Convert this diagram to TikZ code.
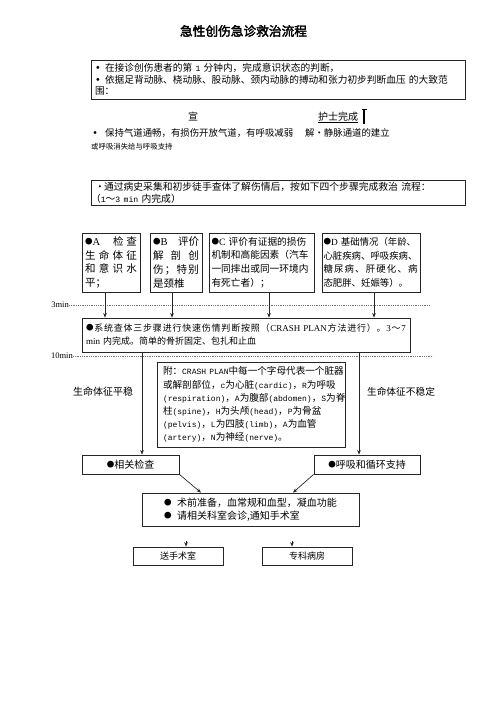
\documentclass[tikz,border=0pt]{standalone}
\usepackage{fontspec}
\setmainfont{Noto Sans CJK SC}
\newfontfamily\latf{Liberation Serif}
\newfontfamily\monf[Scale=0.833]{Liberation Mono}
\newfontfamily\djvf{DejaVu Sans}
\newfontfamily\titf[FakeBold=2.5]{Noto Sans CJK SC}
\usetikzlibrary{arrows.meta}
\newcommand\fsz[2]{\fontsize{#1pt}{#2pt}\selectfont}
\newcommand\bul{\raisebox{1pt}{\fontsize{7.5pt}{8pt}\selectfont ●}}
\newcommand\sbul{{\djvf •}}
\def\sprdend{SPRDEND}
\def\sprd#1#2{\leavevmode\hbox to #1{\sprdA#2\sprdend}}
\def\sprdA#1{{#1}\sprdB}
\def\sprdB#1{\ifx\sprdend#1\else\hfil{#1}\expandafter\sprdB\fi}
\begin{document}
\begin{tikzpicture}[x=1pt,y=-1pt,
  box/.style={draw=black!85, line width=0.8pt, inner sep=0pt, align=left},
  arr/.style={-{Stealth[length=4.5pt,width=3.6pt]}, line width=0.7pt, draw=black!85},
  dotl/.style={black!55, line width=0.6pt, dash pattern=on 0.5pt off 1.3pt},
  lbl/.style={inner sep=0pt}]
\useasboundingbox (0,0) rectangle (496,702);
\fill[white] (0,0) rectangle (496,702);

\node[lbl, font=\titf\fsz{12.7}{14}] (title) at (243.5,31) {急性创伤急诊救治流程};

\node[box, minimum width=374pt, minimum height=39pt, text width=366pt, font=\fsz{9.7}{11.6}] (b1) at (278,79.5)
 {\mbox{\makebox[10pt][l]{\sbul}在接诊创伤患者的第 {\monf 1} 分钟内，完成意识状态的判断，}\\
  \mbox{\makebox[10pt][l]{\sbul}依据足背动脉、桡动脉、股动脉、颈内动脉的搏动和张力初步判断血压 的大致范}\\
  围：};

\node[lbl, font=\fsz{10}{12}] (xuan) at (193,117) {宣};
\node[lbl, font=\fsz{10}{12}] (hushi) at (338,117) {护士完成};
\draw[line width=0.5pt] ([yshift=-0.5pt]hushi.south west) -- ([yshift=-0.5pt]hushi.south east);
\coordinate (ibeam) at (364,124);
\draw[line width=1.4pt] (ibeam) -- ++(0,-15);
\draw[line width=0.6pt] (ibeam) ++(-2.5,-14.7) -- ++(5,0);

\node[lbl, anchor=west, font=\fsz{9.4}{11}] (l1) at (91,133)
 {\makebox[8pt]{\sbul}\hspace{6pt}保持气道通畅，有损伤开放气道，有呼吸减弱\hspace{12pt}解•静脉通道的建立};
\node[lbl, anchor=west, font=\fsz{7.4}{9}] (l2) at (91,147) {或呼吸消失给与呼吸支持};

\node[box, minimum width=374pt, minimum height=25pt, text width=366pt, font=\fsz{9.8}{12}] (b2) at (278,192.5)
 {\mbox{\hspace*{1pt}\makebox[8pt]{·}通过病史采集和初步徒手查体了解伤情后，按如下四个步骤完成救治 流程：}\\
  \mbox{\hspace*{-4pt}（{\monf 1}～{\monf 3 min} 内完成）}};

\node[box, minimum width=58pt, minimum height=59pt, text width=52pt, font=\fsz{10.5}{13.7}] (A) at (111,262.5)
 {\mbox{\hbox to 52pt{\bul{\latf A}\hfil 检\hspace{3pt}查}}\\
  \sprd{52pt}{生命体征}\\
  \sprd{52pt}{和意识水}\\
  平；};
\node[box, minimum width=52pt, minimum height=59pt, text width=46pt, font=\fsz{10.5}{13.7}] (B) at (176,262.5)
 {\mbox{\hbox to 46pt{\bul{\latf B}\hfil 评价}}\\
  \sprd{46pt}{解剖创}\\
  \sprd{46pt}{伤；特别}\\
  是颈椎};
\node[box, minimum width=105pt, minimum height=59pt, text width=100pt, font=\fsz{9.7}{13.7}] (C) at (261.5,262.5)
 {\mbox{\bul{\latf C} 评价有证据的损伤}\\
  \mbox{机制和高能因素（汽车}\\
  \mbox{一同摔出或同一环境内}\\
  \mbox{有死亡者）；}};
\node[box, minimum width=98pt, minimum height=59pt, text width=95pt, font=\fsz{9.4}{13.7}] (D) at (371,262.5)
 {\mbox{\bul{\latf D} 基础情况（年龄、}\\
  \mbox{心脏疾病、呼吸疾病、}\\
  \sprd{94pt}{糖尿病、肝硬化、病}\\
  \mbox{态肥胖、妊娠等）。}};

\node[lbl, anchor=east, font=\latf\fsz{8.5}{10}] (t3) at (69,305) {3min};
\coordinate (t3e) at (430,305);
\draw[dotl] (t3.east) -- (t3e);

\node[box, minimum width=328pt, minimum height=34pt, text width=320pt, font=\fsz{9}{13}] (main) at (246,335)
 {\sprd{320pt}{\bul 系统查体三步骤进行快速伤情判断按照（{\latf CRASH PLAN}方法进行）。{\latf 3}～{\latf 7}}\\
  {\latf min} 内完成。简单的骨折固定、包扎和止血};

\coordinate (xa) at (105,0);
\coordinate (xb) at (172,0);
\coordinate (xc) at (269,0);
\coordinate (xd) at (374,0);
\draw[arr] (A.south -| xa) -- (main.north -| xa);
\draw[arr] (B.south -| xb) -- (main.north -| xb);
\draw[arr] (C.south -| xc) -- (main.north -| xc);
\draw[arr] (D.south -| xd) -- (main.north -| xd);

\node[lbl, anchor=east, font=\latf\fsz{8.5}{10}] (t10) at (73,356) {10min};
\coordinate (t10e) at (433,356);
\draw[dotl] (t10.east) -- (t10e);

\node[box, minimum width=188pt, minimum height=85pt, text width=176pt, font=\fsz{9.6}{13.1}] (note) at (251,404.5)
 {\mbox{附：{\monf CRASH PLAN}中每一个字母代表一个脏器}\\
  \mbox{或解剖部位，{\monf c}为心脏{\monf (cardic)}，{\monf R}为呼吸}\\
  \mbox{{\monf (respiration)}，{\monf A}为腹部{\monf (abdomen)}，{\monf S}为脊}\\
  \mbox{柱{\monf (spine)}，{\monf H}为头颅{\monf (head)}，{\monf P}为骨盆}\\
  \mbox{{\monf (pelvis)}，{\monf L}为四肢{\monf (limb)}，{\monf A}为血管}\\
  \mbox{{\monf (artery)}，{\monf N}为神经{\monf (nerve)}。}};

\node[lbl, font=\fsz{10}{12}] (stable) at (103,392) {生命体征平稳};
\node[lbl, font=\fsz{9.7}{12}] (unstable) at (401,392) {生命体征不稳定};

\node[box, minimum width=97pt, minimum height=19pt, font=\fsz{10}{12}] (rel) at (130.5,464.5) {\bul 相关检查};
\node[box, minimum width=106pt, minimum height=19pt, font=\fsz{10}{12}] (sup) at (367,464.5) {\bul 呼吸和循环支持};

\coordinate (xl) at (142,0);
\coordinate (xr) at (359,0);
\draw[arr] (main.south -| xl) -- (rel.north -| xl);
\draw[arr] (main.south -| xr) -- (sup.north -| xr);

\node[box, minimum width=217pt, minimum height=33pt, text width=173pt, font=\fsz{10}{13}] (prep) at (250.5,509.5)
 {\mbox{\makebox[13pt][l]{\bul}术前准备，血常规和血型，凝血功能}\\
  \mbox{\makebox[13pt][l]{\bul}请相关科室会诊,通知手术室}};

\coordinate (xdl) at (201,0);
\coordinate (xdr) at (293,0);
\draw[arr] (rel.south east) -- (prep.north -| xdl);
\draw[arr] (sup.south west) -- (prep.north -| xdr);

\node[box, minimum width=90pt, minimum height=18pt, font=\fsz{9}{11}] (or) at (178,556) {送手术室};
\node[box, minimum width=90pt, minimum height=18pt, font=\fsz{9}{11}] (ward) at (307,556) {专科病房};

\coordinate (a1) at (186,541);
\coordinate (a2) at (292,541);
\draw[arr] (a1) -- (or.north -| a1);
\draw[arr] (a2) -- (ward.north -| a2);
\end{tikzpicture}
\end{document}
